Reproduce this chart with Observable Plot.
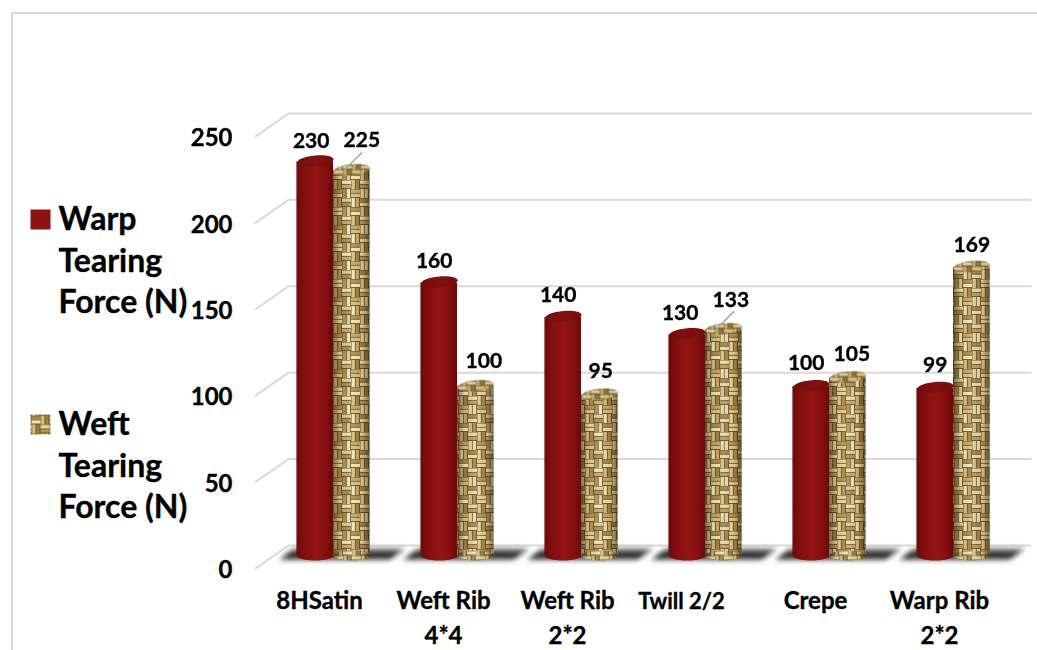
<!DOCTYPE html>
<html>
<head>
<meta charset="utf-8">
<script src="https://cdn.jsdelivr.net/npm/d3@7"></script>
<script src="https://cdn.jsdelivr.net/npm/@observablehq/plot@0.6"></script>
<style>
  html, body { margin: 0; padding: 0; background: #fff; overflow: hidden; }
  #chart { position: relative; width: 1037px; height: 650px; }
  #chart svg { display: block; }
  #chart svg text { stroke: #000; stroke-width: 0.35px; }
  #border { position: absolute; left: 11px; top: 12px; right: 0; bottom: 0; border-left: 2px solid #d9d9d9; border-top: 2px solid #d9d9d9; pointer-events: none; }
</style>
</head>
<body>
<div id="chart"><div id="border"></div></div>
<script>
const categories = ["8HSatin", "Weft Rib\n4*4", "Weft Rib\n2*2", "Twill 2/2", "Crepe", "Warp Rib\n2*2"];
const warp = [230, 160, 140, 130, 100, 99];
const weft = [225, 100, 95, 133, 105, 169];
const yTicks = [0, 50, 100, 150, 200, 250];
const warpName = "Warp\nTearing\nForce (N)";
const weftName = "Weft\nTearing\nForce (N)";
const warpNudge = [[-4, 1], [-5, 0], [-5, 0], [-7, 0], [-5, -1], [0, -1]];
const weftNudge = [[10, -8], [8, -3], [1, -2], [7, -7], [4, -2], [0, 0]];

const idx = categories.map((_, i) => i);
const rows = s => s.map((v, i) => ({i, v}));
const warpRows = rows(warp), weftRows = rows(weft);
const W = 0.295;

const ellipse = (rx, ry, tilt) => ({
  draw(c) {
    const k = 0.5523;
    const p = (x, y) => [x, y - x * tilt];
    c.moveTo(...p(-rx, 0));
    c.bezierCurveTo(...p(-rx, -k * ry), ...p(-k * rx, -ry), ...p(0, -ry));
    c.bezierCurveTo(...p(k * rx, -ry), ...p(rx, -k * ry), ...p(rx, 0));
    c.bezierCurveTo(...p(rx, k * ry), ...p(k * rx, ry), ...p(0, ry));
    c.bezierCurveTo(...p(-k * rx, ry), ...p(-rx, k * ry), ...p(-rx, 0));
    c.closePath();
  }
});
const shadowShape = {
  draw(c) {
    c.moveTo(-55, 6); c.lineTo(-40, -6); c.lineTo(72, -6); c.lineTo(55, 6); c.closePath();
  }
};
const square = s => ({ draw(c) { c.moveTo(-s, -s); c.lineTo(s, -s); c.lineTo(s, s); c.lineTo(-s, s); c.closePath(); } });

function defs() {
  const d = d3.create("svg:defs");
  const grad = (id, stops, vertical) => {
    const g = d.append("linearGradient").attr("id", id)
      .attr("x1", 0).attr("y1", 0).attr("x2", vertical ? 0 : 1).attr("y2", vertical ? 1 : 0);
    stops.forEach(([o, c, a]) => g.append("stop").attr("offset", o).attr("stop-color", c).attr("stop-opacity", a ?? 1));
  };
  grad("redBody", [[0, "#6e0a0a"], [0.3, "#8a1010"], [0.55, "#941414"], [0.8, "#850f0f"], [1, "#680909"]]);
  grad("redTop", [[0, "#720c0c"], [0.5, "#821010"], [1, "#760d0d"]]);
  grad("cylShade", [[0, "#2e2008", 0.55], [0.22, "#2e2008", 0.08], [0.5, "#fff", 0.12], [0.8, "#2e2008", 0.1], [1, "#2e2008", 0.55]]);
  grad("floor", [[0, "#8a8a8a"], [0.3, "#444"], [0.6, "#1c1c1c"], [0.85, "#3a3a3a"], [1, "#b0b0b0"]], true);
  const f = d.append("filter").attr("id", "soft").attr("filterUnits", "userSpaceOnUse")
    .attr("x", 0).attr("y", 500).attr("width", 1037).attr("height", 100);
  f.append("feGaussianBlur").attr("stdDeviation", 2.4);
  const s = d.append("filter").attr("id", "slight").attr("filterUnits", "userSpaceOnUse")
    .attr("x", 0).attr("y", 0).attr("width", 1037).attr("height", 650);
  s.append("feGaussianBlur").attr("stdDeviation", 0.55);

  const p = d.append("pattern").attr("id", "weave").attr("patternUnits", "userSpaceOnUse")
    .attr("width", 36).attr("height", 36);
  p.append("rect").attr("width", 36).attr("height", 36).attr("fill", "#5c4620");
  const tones = ["#ecd9a0", "#b39556", "#e2cb8e", "#a98a4e", "#f2e4b6", "#c4a767", "#d8bf82", "#9c7f45", "#e9d59b"];
  let t = 0;
  for (let r = 0; r < 4; r++) for (let q = 0; q < 4; q++) {
    const x = q * 9, y = r * 9, h = (r + q) % 2 === 0;
    for (let k = 0; k < 2; k++) {
      const a = 0.5 + k * 4.2;
      p.append("rect")
        .attr("x", h ? x : x + a).attr("y", h ? y + a : y)
        .attr("width", h ? 9 : 3.4).attr("height", h ? 3.4 : 9)
        .attr("fill", tones[t++ % tones.length]);
    }
  }
  return d.node();
}

const withFilter = id => (i, s, v, dim, ctx, next) => {
  const g = next(i, s, v, dim, ctx);
  g.setAttribute("filter", `url(#${id})`);
  return g;
};

const gridStops = [-0.629, -0.363, 5.621];
const gridRows = yTicks.flatMap(v => gridStops.map((x, k) => ({v, x, y: v + (k === 0 ? -5.76 : 7.54)})));

const fs = {fontFamily: "Lato", fontWeight: 700};
const labelMarks = (s, off, nudge) => s.map((v, i) => Plot.text([{i, v}], {
  x: d => d.i + off, y: "v", text: d => String(d.v), fontSize: 21, fontWeight: 700,
  dx: nudge[i][0], dy: -21 + nudge[i][1]
}));

const cylinder = (data, x1, x2, bodyFill, topFill, textured) => {
  const soft = textured ? {render: withFilter("slight")} : {};
  return [
    Plot.rectY(data, {x1: d => d.i + x1, x2: d => d.i + x2, y1: 0, y2: "v", fill: bodyFill, insetBottom: 2, insetTop: 1, ...soft}),
    Plot.dot(data, {x: d => d.i + (x1 + x2) / 2, y: 0, dy: -3, fill: bodyFill, stroke: "none", symbol: ellipse(18.3, 5, 0), ...soft}),
    ...(textured ? [
      Plot.rectY(data, {x1: d => d.i + x1, x2: d => d.i + x2, y1: 0, y2: "v", fill: "url(#cylShade)", insetBottom: 2, insetTop: 1}),
      Plot.dot(data, {x: d => d.i + (x1 + x2) / 2, y: 0, dy: -3, fill: "url(#cylShade)", stroke: "none", symbol: ellipse(18.3, 5, 0)})
    ] : []),
    Plot.dot(data, {x: d => d.i + (x1 + x2) / 2, y: "v", fill: topFill, stroke: "none", symbol: ellipse(18.3, 5.5, 0.09), ...soft}),
    ...(textured ? [Plot.dot(data, {x: d => d.i + (x1 + x2) / 2, y: "v", fill: "#5e4a1e", fillOpacity: 0.15, stroke: "none", symbol: ellipse(18.3, 5.5, 0.09)})] : [])
  ];
};

const chart = Plot.plot({
  width: 1037, height: 650,
  marginLeft: 232, marginRight: 0, marginTop: 0, marginBottom: 60,
  style: {background: "transparent", ...fs},
  x: {type: "linear", domain: [0, 5], range: [333, 953], label: null},
  y: {domain: [0, 250], range: [558, 126], label: null},
  marks: [
    defs,
    Plot.line(gridRows, {x: "x", y: "y", z: "v", stroke: "#d9d9d9", strokeWidth: 2}),
    Plot.dot(idx, {x: d => d, y: 0, dy: -4, fill: "url(#floor)", stroke: "none", symbol: shadowShape, render: withFilter("soft")}),
    ...cylinder(warpRows, -W, 0, "url(#redBody)", "url(#redTop)", false),
    ...cylinder(weftRows, 0, W, "url(#weave)", "url(#weave)", true),
    Plot.link(weftRows.filter(d => d.i === 0 || d.i === 3), {
      x1: d => d.i + 0.09, x2: d => d.i + 0.23, y1: "v", y2: d => d.v + 10,
      stroke: "#a6a6a6", strokeWidth: 1.5
    }),
    ...labelMarks(warp, -W / 2, warpNudge),
    ...labelMarks(weft, W / 2, weftNudge),
    Plot.axisY({ticks: yTicks, tickSize: 0, tickPadding: 0, fontSize: 24, fontWeight: 700, dy: 12, label: null, tickFormat: d => String(d)}),
    Plot.axisX({ticks: idx.filter(i => i !== 3), tickSize: 0, tickPadding: 0, dx: -14, dy: -6, fontSize: 24, fontWeight: 700, lineHeight: 1.46, label: null, tickFormat: i => categories[i]}),
    Plot.axisX({ticks: [3], tickSize: 0, tickPadding: 0, dx: -24, dy: 3, fontSize: 22, fontWeight: 700, label: null, tickFormat: i => categories[i]}),
    Plot.text([warpName], {text: d => d, frameAnchor: "top-left", textAnchor: "start", lineAnchor: "top", dx: -174, dy: 200, fontSize: 32, fontWeight: 700, lineHeight: 1.3}),
    Plot.text([weftName], {text: d => d, frameAnchor: "top-left", textAnchor: "start", lineAnchor: "top", dx: -174, dy: 405, fontSize: 32, fontWeight: 700, lineHeight: 1.3}),
    Plot.dot(["Warp"], {frameAnchor: "top-left", dx: -192, dy: 219, fill: "#8c1212", stroke: "none", symbol: square(10)}),
    Plot.dot(["Weft"], {frameAnchor: "top-left", dx: -192, dy: 424, fill: "url(#weave)", stroke: "none", symbol: square(10)})
  ]
});
document.getElementById("chart").prepend(chart);
</script>
</body>
</html>
